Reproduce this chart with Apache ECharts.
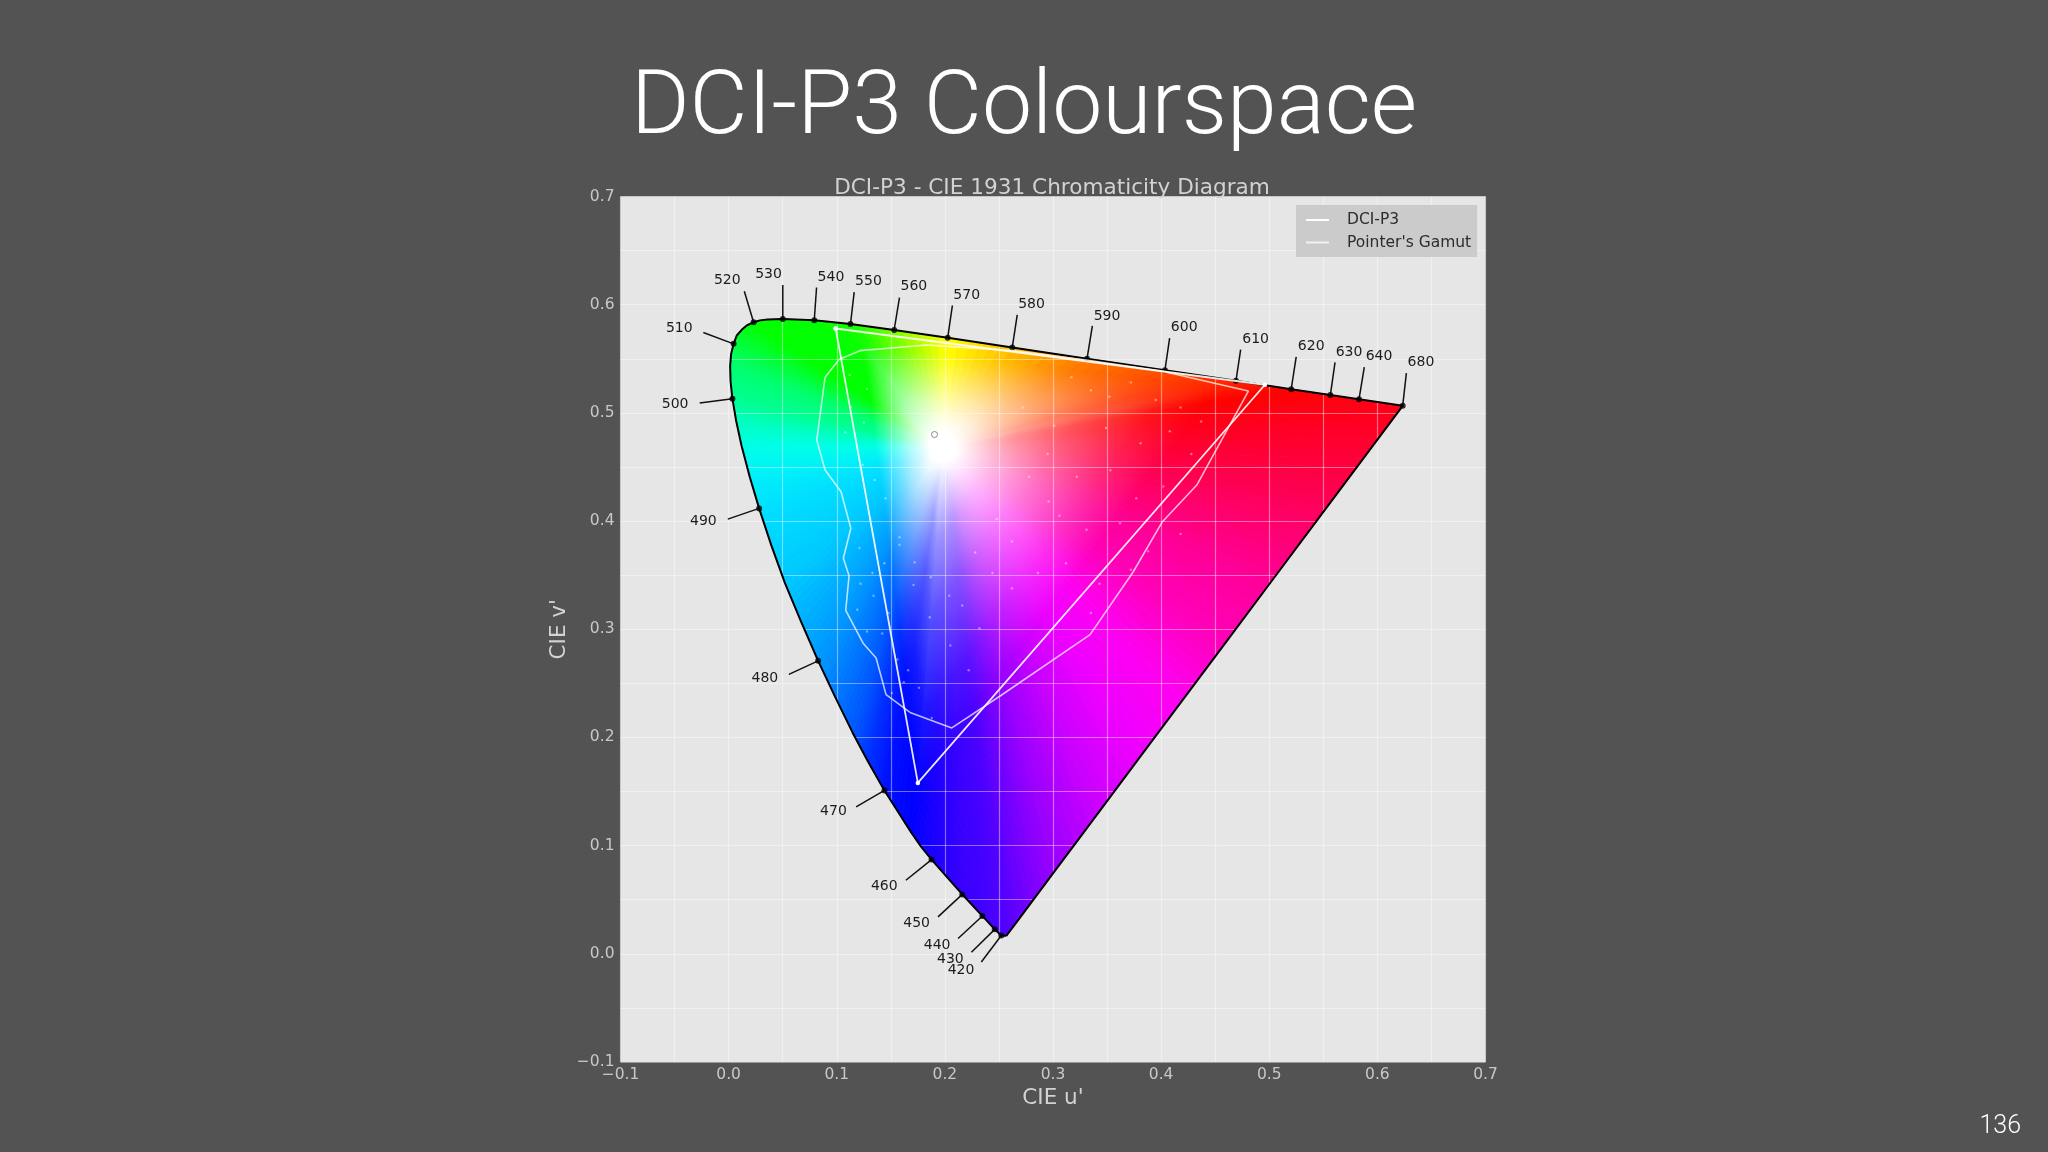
<!DOCTYPE html>
<html>
<head>
<meta charset="utf-8">
<title>DCI-P3 Colourspace</title>
<script src="https://cdn.jsdelivr.net/npm/echarts@6/dist/echarts.min.js"></script>
<style>
  html, body { margin: 0; padding: 0; background: #545354; }
  #main { width: 2048px; height: 1152px; }
</style>
</head>
<body>
<div id="main"></div>
<script>
// spectral locus, then the purple line back to the start
var locusU = [0.2568, 0.2522, 0.2461, 0.2347, 0.2161, 0.1877, 0.1780, 0.1690, 0.1441, 0.1290, 0.1147, 0.0985, 0.0828, 0.0670, 0.0521, 0.0395, 0.0282, 0.0195, 0.0119, 0.0070, 0.0035, 0.0018, 0.0014, 0.0023, 0.0046, 0.0075, 0.0123, 0.0170, 0.0231, 0.0290, 0.0360, 0.0501, 0.0792, 0.1127, 0.1531, 0.2026, 0.2623, 0.3315, 0.4035, 0.4692, 0.5203, 0.5565, 0.5830, 0.6234, 0.5800, 0.5400, 0.5000, 0.4600, 0.4200, 0.3800, 0.3400, 0.3000, 0.2700];
var locusV = [0.0166, 0.0169, 0.0226, 0.0350, 0.0549, 0.0871, 0.0990, 0.1119, 0.1510, 0.1775, 0.2044, 0.2375, 0.2708, 0.3070, 0.3427, 0.3775, 0.4117, 0.4410, 0.4699, 0.4925, 0.5131, 0.5290, 0.5432, 0.5545, 0.5638, 0.5715, 0.5770, 0.5810, 0.5837, 0.5855, 0.5862, 0.5868, 0.5856, 0.5821, 0.5766, 0.5694, 0.5604, 0.5501, 0.5393, 0.5296, 0.5219, 0.5165, 0.5125, 0.5065, 0.4485, 0.3950, 0.3416, 0.2881, 0.2347, 0.1813, 0.1278, 0.0744, 0.0342];
var locusColor = ['#5000ff', '#4e00ff', '#4800ff', '#4000ff', '#3800ff', '#1800ff', '#0c00ff', '#0000ff', '#0010ff', '#0030ff', '#0058ff', '#0078ff', '#0098ff', '#00b0ff', '#00c8ff', '#00d4ff', '#00e0ff', '#00f0f8', '#00ffe8', '#00ffc0', '#00ff90', '#00ff80', '#00ff70', '#00ff58', '#00ff40', '#00ff2c', '#00ff18', '#00ff0c', '#00ff00', '#00ff00', '#00ff00', '#00ff00', '#00ff00', '#10ff00', '#78ff00', '#ffff00', '#ffc000', '#ff7c00', '#ff5000', '#ff2400', '#ff0000', '#ff0008', '#ff0010', '#ff0018', '#ff0040', '#ff0068', '#ff0098', '#ff00b8', '#ff00f0', '#ee00ff', '#c800ff', '#9800ff', '#6800ff'];

var whiteU = 0.198;
var whiteV = 0.468;
// corners of the region where the fill stops being saturated
var plateauU = [0.451, 0.125, 0.175];
var plateauV = [0.523, 0.563, 0.158];

var waveNames = ['420', '430', '440', '450', '460', '470', '480', '490', '500', '510', '520', '530', '540', '550', '560', '570', '580', '590', '600', '610', '620', '630', '640', '680'];
var waveU = [0.2522, 0.2461, 0.2347, 0.2161, 0.1877, 0.1441, 0.0828, 0.0282, 0.0035, 0.0046, 0.0231, 0.0501, 0.0792, 0.1127, 0.1531, 0.2026, 0.2623, 0.3315, 0.4035, 0.4692, 0.5203, 0.5565, 0.5830, 0.6234];
var waveV = [0.0169, 0.0226, 0.0350, 0.0549, 0.0871, 0.1510, 0.2708, 0.4117, 0.5131, 0.5638, 0.5837, 0.5868, 0.5856, 0.5821, 0.5766, 0.5694, 0.5604, 0.5501, 0.5393, 0.5296, 0.5219, 0.5165, 0.5125, 0.5065];

var p3U = [0.099, 0.496, 0.175, 0.099];
var p3V = [0.578, 0.526, 0.158, 0.578];

var pointerU = [0.0892, 0.1024, 0.1215, 0.1833, 0.2622, 0.3306, 0.3991, 0.4807, 0.4330, 0.4012, 0.3741, 0.3343, 0.2511, 0.2064, 0.1678, 0.1456, 0.1364, 0.1246, 0.1083, 0.1114, 0.1061, 0.1130, 0.1040, 0.0892, 0.0815, 0.0892];
var pointerV = [0.5329, 0.5495, 0.5575, 0.5627, 0.5575, 0.5489, 0.5390, 0.5202, 0.4333, 0.3994, 0.3529, 0.2950, 0.2383, 0.2088, 0.2231, 0.2396, 0.2735, 0.2868, 0.3174, 0.3495, 0.3656, 0.3933, 0.4271, 0.4472, 0.4749, 0.5329];

// the small pale specks inside the gamut
var speckU = [0.317, 0.335, 0.352, 0.372, 0.395, 0.418, 0.437, 0.349, 0.381, 0.408, 0.428, 0.295, 0.322, 0.353, 0.377, 0.402, 0.306, 0.331, 0.362, 0.388, 0.418, 0.286, 0.312, 0.343, 0.372, 0.272, 0.301, 0.335, 0.278, 0.296, 0.248, 0.262, 0.228, 0.244, 0.262, 0.216, 0.232, 0.205, 0.222, 0.187, 0.204, 0.172, 0.186, 0.158, 0.171, 0.145, 0.158, 0.131, 0.144, 0.122, 0.134, 0.119, 0.128, 0.121, 0.133, 0.142, 0.148, 0.156, 0.166, 0.176, 0.188, 0.151, 0.162, 0.125, 0.113, 0.124, 0.135, 0.112, 0.108, 0.128];
var speckV = [0.533, 0.521, 0.515, 0.528, 0.512, 0.505, 0.492, 0.486, 0.472, 0.483, 0.462, 0.462, 0.441, 0.447, 0.421, 0.432, 0.405, 0.392, 0.398, 0.372, 0.388, 0.352, 0.361, 0.342, 0.355, 0.505, 0.488, 0.315, 0.441, 0.418, 0.402, 0.381, 0.371, 0.352, 0.338, 0.322, 0.301, 0.285, 0.262, 0.348, 0.331, 0.362, 0.311, 0.385, 0.341, 0.421, 0.378, 0.402, 0.361, 0.342, 0.331, 0.318, 0.298, 0.375, 0.352, 0.296, 0.315, 0.272, 0.262, 0.246, 0.218, 0.241, 0.251, 0.491, 0.505, 0.452, 0.438, 0.535, 0.482, 0.522];

var whiteMarkU = 0.1904;
var whiteMarkV = 0.480;

var xTicks = [-0.1, 0, 0.1, 0.2, 0.3, 0.4, 0.5, 0.6, 0.7];

// pixel offsets of each wavelength tick end and label, from its dot
var waveTickDx = [-20, -23.3, -24.3, -24.3, -25.7, -28.3, -29.3, -31.3, -32.7, -30.3, -9.3, 0, 2.3, 3.7, 5.3, 4.7, 5, 5.3, 4.7, 4.7, 5, 4.7, 5.3, 3.7];
var waveTickDy = [26.4, 22.9, 22.5, 22.5, 20.7, 16.4, 13.6, 10.7, 4.3, -11.3, -31, -34, -32.7, -32, -32.3, -32.3, -32.7, -32.7, -32.3, -31.3, -32.3, -32.7, -32.3, -32.7];
var waveLabelDx = [-40.3, -44.3, -45.3, -45.7, -47.3, -51, -53.3, -55.7, -57.3, -54.3, -26.3, -14.3, 16.7, 18, 19.7, 19, 19.3, 20, 19.3, 19.7, 20, 18.7, 20, 18.3];
var waveLabelDy = [34.6, 30, 29.3, 29, 26.8, 21.4, 17.9, 13.3, 5.3, -15, -41.7, -44.3, -43, -43, -43.3, -42.3, -43.3, -42.7, -43, -41.7, -43, -43, -43, -43.7];

var mono = 'DejaVu Sans';
var slideFont = 'Roboto, Inter, sans-serif';

function zip(a, b) {
  return a.map(function (v, i) { return [v, b[i]]; });
}

// how far along the ray from the white point the fill stays unsaturated
function plateauFraction(du, dv) {
  var best = 1;
  for (var i = 0; i < 3; i++) {
    var j = (i + 1) % 3;
    var ex = plateauU[j] - plateauU[i];
    var ey = plateauV[j] - plateauV[i];
    var wx = plateauU[i] - whiteU;
    var wy = plateauV[i] - whiteV;
    var det = du * ey - dv * ex;
    if (Math.abs(det) < 1e-9) continue;
    var t = (wx * ey - wy * ex) / det;
    var s = (wx * dv - wy * du) / det;
    if (t > 0 && s >= 0 && s <= 1 && t < best) best = t;
  }
  return best;
}

// one locus segment is painted as a thin fan of gradient wedges from the white point
function renderWedge(params, api) {
  var i = params.dataIndex;
  var n = locusU.length;
  var k = (i + 1) % n;
  var parts = 6;
  var center = api.coord([whiteU, whiteV]);
  var children = [];
  for (var p = 0; p < parts; p++) {
    var a = p / parts;
    var b = (p + 1) / parts;
    var mid = (a + b) / 2;
    var ua = locusU[i] + (locusU[k] - locusU[i]) * a;
    var va = locusV[i] + (locusV[k] - locusV[i]) * a;
    var ub = locusU[i] + (locusU[k] - locusU[i]) * b;
    var vb = locusV[i] + (locusV[k] - locusV[i]) * b;
    var um = (ua + ub) / 2;
    var vm = (va + vb) / 2;
    var c = echarts.color.lerp(mid, [locusColor[i], locusColor[k]]);
    var t = plateauFraction(um - whiteU, vm - whiteV);
    var end = api.coord([um, vm]);
    var rayLen = Math.hypot(end[0] - center[0], end[1] - center[1]);
    var core = Math.min(14 / rayLen, t * 0.2);
    // short rays fade slowly, long rays pick up colour sooner
    var s = Math.max(0, Math.min(1, (t * rayLen - 100) / 150));
    var grad = new echarts.graphic.LinearGradient(center[0], center[1], end[0], end[1], [
      { offset: 0, color: '#ffffff' },
      { offset: core, color: '#ffffff' },
      { offset: t * 0.28, color: echarts.color.lerp(0.1 + 0.32 * s, ['#ffffff', c]) },
      { offset: t * 0.5, color: echarts.color.lerp(0.33 + 0.35 * s, ['#ffffff', c]) },
      { offset: t * 0.8, color: echarts.color.lerp(0.72 + 0.2 * s, ['#ffffff', c]) },
      { offset: t, color: c },
      { offset: 1, color: c }
    ], true);
    children.push({
      type: 'polygon',
      shape: { points: [center, api.coord([ua, va]), api.coord([ub, vb])] },
      style: { fill: grad, stroke: grad, lineWidth: 1 }
    });
  }
  return { type: 'group', children: children };
}

function renderWaveTick(params, api) {
  var i = params.dataIndex;
  var pt = api.coord([waveU[i], waveV[i]]);
  return {
    type: 'group',
    children: [
      {
        type: 'line',
        shape: { x1: pt[0], y1: pt[1], x2: pt[0] + waveTickDx[i], y2: pt[1] + waveTickDy[i] },
        style: { stroke: '#111111', lineWidth: 1.5 }
      },
      {
        type: 'text',
        x: pt[0] + waveLabelDx[i],
        y: pt[1] + waveLabelDy[i],
        style: { text: waveNames[i], fill: '#1c1c1c', font: '14px "DejaVu Sans"', align: 'center', verticalAlign: 'middle' }
      }
    ]
  };
}

var chart = echarts.init(document.getElementById('main'), null, { renderer: 'canvas' });

var gridLine = { show: true, lineStyle: { color: 'rgba(255,255,255,0.42)', width: 1.2, type: 'solid' } };

function tickLabel(v) {
  if (v < 0) return '\u2212' + Math.abs(v).toFixed(1);
  return v.toFixed(1);
}

var option = {
  backgroundColor: '#545354',
  animation: false,
  title: [
    { text: 'DCI-P3 Colourspace', left: 'center', top: 61, textStyle: { color: '#ffffff', fontFamily: slideFont, fontWeight: 300, fontSize: 89.5 } },
    { text: 'DCI-P3 - CIE 1931 Chromaticity Diagram', left: 1047, textAlign: 'center', top: 172, textStyle: { color: '#d2d2d2', fontFamily: mono, fontWeight: 'normal', fontSize: 21.6 } },
    { text: '136', right: 22, top: 1109, textStyle: { color: '#ffffff', fontFamily: slideFont, fontWeight: 300, fontSize: 25 } }
  ],
  legend: {
    left: 1296,
    top: 205,
    orient: 'vertical',
    padding: [7, 6, 6.5, 10],
    itemGap: 6.5,
    itemWidth: 23,
    itemHeight: 2,
    backgroundColor: '#cbcbcb',
    textStyle: { color: '#2c2c2c', fontFamily: mono, fontSize: 15.5, padding: [0, 0, 0, 13] },
    data: [
      { name: 'DCI-P3', icon: 'rect' },
      { name: "Pointer's Gamut", icon: 'rect' }
    ]
  },
  grid: { left: 620.5, top: 196.5, width: 865, height: 865.5, show: true, backgroundColor: '#e6e6e7', borderWidth: 0 },
  xAxis: {
    type: 'value',
    z: 3,
    min: xTicks[0],
    max: xTicks[xTicks.length - 1],
    interval: 0.1,
    name: "CIE u'",
    nameLocation: 'middle',
    nameGap: 24,
    nameTextStyle: { color: '#d2d2d2', fontFamily: mono, fontSize: 21.5 },
    axisLine: { show: false },
    axisTick: { show: false },
    axisLabel: { color: '#c8c8c8', fontFamily: mono, fontSize: 15.5, margin: 5, formatter: tickLabel },
    splitLine: gridLine,
    minorTick: { show: false, splitNumber: 2 },
    minorSplitLine: gridLine
  },
  yAxis: {
    type: 'value',
    z: 3,
    min: xTicks[0],
    max: xTicks[xTicks.length - 1],
    interval: 0.1,
    name: "CIE v'",
    nameLocation: 'middle',
    nameGap: 50,
    nameTextStyle: { color: '#d2d2d2', fontFamily: mono, fontSize: 21.5 },
    axisLine: { show: false },
    axisTick: { show: false },
    axisLabel: { color: '#c8c8c8', fontFamily: mono, fontSize: 15.5, margin: 6, padding: [3, 0, 0, 0], formatter: tickLabel },
    splitLine: gridLine,
    minorTick: { show: false, splitNumber: 2 },
    minorSplitLine: gridLine
  },
  series: [
    {
      name: 'fill',
      type: 'custom',
      z: 1,
      silent: true,
      clip: true,
      renderItem: renderWedge,
      data: zip(locusU, locusV)
    },
    {
      name: 'specks',
      type: 'scatter',
      z: 4,
      silent: true,
      symbolSize: 2.5,
      itemStyle: { color: 'rgba(255,255,255,0.5)' },
      data: zip(speckU, speckV)
    },
    {
      name: 'locus',
      type: 'line',
      z: 5,
      silent: true,
      symbol: 'none',
      lineStyle: { color: '#000000', width: 2 },
      data: zip(locusU, locusV).concat([[locusU[0], locusV[0]]])
    },
    {
      name: 'wave ticks',
      type: 'custom',
      z: 5,
      silent: true,
      renderItem: renderWaveTick,
      data: zip(waveU, waveV)
    },
    {
      name: 'wave dots',
      type: 'scatter',
      z: 6,
      silent: true,
      symbolSize: 6,
      itemStyle: { color: '#000000' },
      data: zip(waveU, waveV)
    },
    {
      name: "Pointer's Gamut",
      type: 'line',
      z: 7,
      silent: true,
      symbol: 'none',
      itemStyle: { color: 'rgba(255,255,255,0.72)' },
      lineStyle: { color: 'rgba(255,255,255,0.72)', width: 1.6 },
      data: zip(pointerU, pointerV)
    },
    {
      name: 'DCI-P3',
      type: 'line',
      z: 8,
      silent: true,
      symbol: 'circle',
      symbolSize: 4.5,
      itemStyle: { color: '#ffffff' },
      lineStyle: { color: 'rgba(255,255,255,0.9)', width: 1.8 },
      data: zip(p3U, p3V)
    },
    {
      name: 'white point',
      type: 'scatter',
      z: 8,
      silent: true,
      symbolSize: 6,
      itemStyle: { color: 'rgba(255,255,255,0)', borderColor: '#707070', borderWidth: 1 },
      data: [[whiteMarkU, whiteMarkV]]
    }
  ]
};

chart.setOption(option);
</script>
</body>
</html>
